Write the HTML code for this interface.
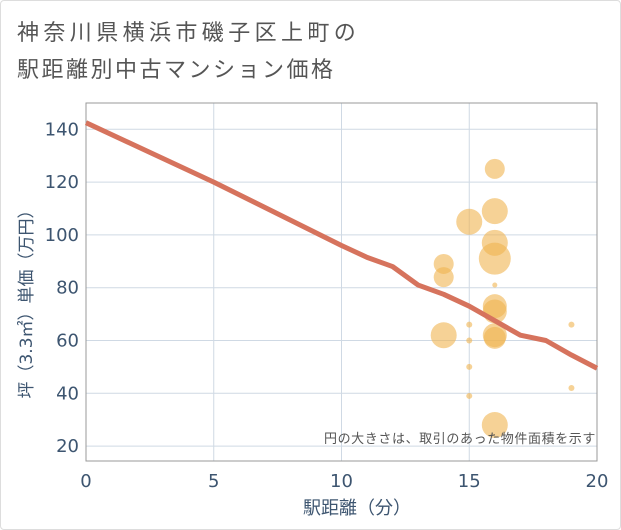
<!DOCTYPE html>
<html><head><meta charset="utf-8"><style>
body{margin:0;background:#fff;font-family:"Liberation Sans","Noto Sans CJK JP",sans-serif;}
#card{position:absolute;left:0;top:0;width:619px;height:528px;border:1px solid #ddd;border-radius:4px;}
</style></head><body>
<div id="card"></div>
<svg id="c" width="621" height="530" style="position:absolute;left:0;top:0">
<text x="17" y="40" font-size="22" letter-spacing="4.4" fill="#555">神奈川県横浜市磯子区上町の</text>
<text x="17" y="77" font-size="22" letter-spacing="2.5" fill="#555">駅距離別中古マンション価格</text>
<g id="grid"></g>
<g id="bub"></g>
<g id="ln"></g>
<text x="596" y="443" font-size="13" letter-spacing="0.6" fill="#555" text-anchor="end">円の大きさは、取引のあった物件面積を示す</text>
<text x="357" y="514" font-size="18" fill="#3d5570" text-anchor="middle">駅距離（分）</text>
<text transform="translate(32,300) rotate(-90)" font-size="17" fill="#3d5570" text-anchor="middle" font-family="DejaVu Sans, Noto Sans CJK JP, sans-serif">坪（3.3㎡）単価（万円）</text>
</svg>
<script>
const xTicks=[0,5,10,15,20];
const yTicks=[20,40,60,80,100,120,140];
const lineX=[0,5,10,11,12,13,14,15,16,17,18,19,20];
const lineY=[142.5,120,96,91.5,88,81,77.5,73,67.5,62,60,54.5,49.5];
const bubX=[16,16,15,16,16,14,14,16,16,16,14,15,15,16,16,15,15,19,19,16];
const bubY=[125,109,105,97,91,89,84,81,73,71,62,66,60,61,62,50,39,66,42,28];
const bubR=[10,13,13,13,16,10,10,2.5,12,12,13,3,3,11,12,3,3,3,3,13];
const L=86,R=597,T=103,B=461;
const sx=v=>L+v*(R-L)/20;
const sy=v=>129.3+(140-v)*2.64;
const NS="http://www.w3.org/2000/svg";
function mk(t,a,p){const e=document.createElementNS(NS,t);for(const k in a)e.setAttribute(k,a[k]);p.appendChild(e);return e;}
const g=document.getElementById('grid');
yTicks.forEach(v=>{
 const l=mk('line',{x1:L,x2:R,y1:sy(v),y2:sy(v),stroke:'#cfd9e4','stroke-width':1},g);
 
 
 const t=mk('text',{x:L-7,y:sy(v)+6,'font-size':18,fill:'#3d5570','text-anchor':'end','font-family':'DejaVu Sans, sans-serif'},g);
 t.textContent=v;
 
 
});
xTicks.forEach(v=>{
 const l=mk('line',{x1:sx(v),x2:sx(v),y1:T,y2:B,stroke:'#cfd9e4','stroke-width':1},g);
 
 
 const t=mk('text',{x:sx(v),y:487,'font-size':18,fill:'#3d5570','text-anchor':'middle','font-family':'DejaVu Sans, sans-serif'},g);
 t.textContent=v;
 
 
});
const fr=mk('rect',{x:L,y:T,width:R-L,height:B-T,fill:'none',stroke:'#999','stroke-width':1},g);


const bg=document.getElementById('bub');
bubX.forEach((x,i)=>{
 const c=mk('circle',{cx:sx(x),cy:sy(bubY[i]),r:bubR[i],fill:'rgba(240,180,80,0.6)'},bg);
 
 
});
const p=mk('polyline',{points:lineX.map((x,i)=>sx(x)+','+sy(lineY[i])).join(' '),fill:'none',stroke:'#d6735d','stroke-width':5,'stroke-linejoin':'round'},document.getElementById('ln'));


</script>
</body></html>
